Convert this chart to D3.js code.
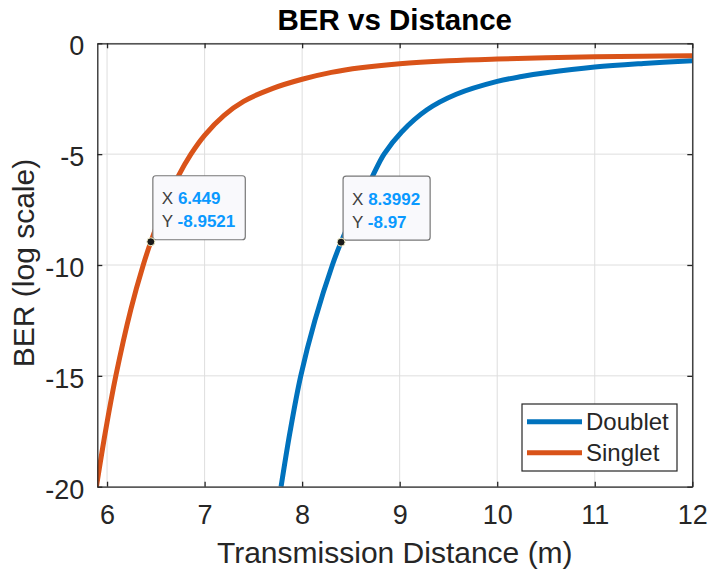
<!DOCTYPE html>
<html>
<head>
<meta charset="utf-8">
<script src="https://cdn.jsdelivr.net/npm/d3@7"></script>
<style>
  html, body { margin: 0; padding: 0; background: #ffffff; }
  svg { display: block; }
  text { font-family: "Liberation Sans", Arial, Helvetica, sans-serif; }
</style>
</head>
<body>
<svg id="chart" width="711" height="575"></svg>
<script>
// Transmission distance (m) and log10(BER) samples for each receiver type
const doubletX = [7.784, 7.877, 7.986, 8.131, 8.31, 8.3992, 8.549, 8.721, 8.84, 9.02, 9.28, 9.58, 10.0, 10.25, 10.5, 11.0, 11.5, 12.0];
const doubletY = [-20, -17.5, -15, -12.5, -10, -8.97, -7.5, -6.0, -5.0, -4.0, -3.0, -2.3, -1.72, -1.5, -1.33, -1.07, -0.91, -0.79];
const singletX = [5.891, 5.984, 6.09, 6.244, 6.371, 6.449, 6.592, 6.729, 6.86, 7.0, 7.2, 7.4, 7.7, 8.0, 8.3, 8.6, 9.0, 9.5, 10.0, 10.5, 11.0, 11.5, 12.0];
const singletY = [-20, -17.5, -15, -12, -10, -8.9521, -7.3, -6.0, -5.0, -4.15, -3.25, -2.62, -2.03, -1.62, -1.31, -1.1, -0.92, -0.79, -0.71, -0.65, -0.61, -0.58, -0.56];

const seriesNames = ["Doublet", "Singlet"];
const seriesColors = ["#0072BD", "#D95319"];

const xTicks = [6, 7, 8, 9, 10, 11, 12];
const xTickLabels = ["6", "7", "8", "9", "10", "11", "12"];
const yTicks = [-20, -15, -10, -5, 0];
const yTickLabels = ["-20", "-15", "-10", "-5", "0"];

// Data tips shown on the chart: [x, y] of the marked point, per series
const tipDoublet = [8.3992, -8.97];
const tipSinglet = [6.449, -8.9521];
const tipDoubletLabels = ["8.3992", "-8.97"];
const tipSingletLabels = ["6.449", "-8.9521"];

const titleText = "BER vs Distance";
const xLabelText = "Transmission Distance (m)";
const yLabelText = "BER (log scale)";

const series = [
  { name: seriesNames[0], color: seriesColors[0], pts: doubletX.map((x, i) => [x, doubletY[i]]) },
  { name: seriesNames[1], color: seriesColors[1], pts: singletX.map((x, i) => [x, singletY[i]]) }
];

const svg = d3.select("#chart");
const plotLeft = 97.3, plotRight = 692.3, plotTop = 43.3, plotBottom = 486.7;

const x = d3.scaleLinear().domain([5.9, 12]).range([plotLeft, plotRight]);
const y = d3.scaleLinear().domain([-20, 0]).range([plotBottom, plotTop]);

const axisColor = "#262626";

// grid
const grid = svg.append("g");
grid.selectAll("line.gx").data(xTicks).join("line")
  .attr("class", "gx")
  .attr("x1", d => x(d)).attr("x2", d => x(d))
  .attr("y1", plotTop).attr("y2", plotBottom)
  .attr("stroke", "#dedede").attr("stroke-width", 1);
grid.selectAll("line.gy").data(yTicks).join("line")
  .attr("class", "gy")
  .attr("y1", d => y(d)).attr("y2", d => y(d))
  .attr("x1", plotLeft).attr("x2", plotRight)
  .attr("stroke", "#dedede").attr("stroke-width", 1);

// curves, clipped to the plot box
svg.append("clipPath").attr("id", "plotclip")
  .append("rect").attr("x", plotLeft).attr("y", plotTop)
  .attr("width", plotRight - plotLeft).attr("height", plotBottom - plotTop);

const line = d3.line()
  .x(d => x(d[0])).y(d => y(d[1]))
  .curve(d3.curveCatmullRom.alpha(0.5));

svg.append("g").attr("clip-path", "url(#plotclip)")
  .selectAll("path").data(series).join("path")
  .attr("d", d => line(d.pts))
  .attr("fill", "none")
  .attr("stroke", d => d.color)
  .attr("stroke-width", 5)
  .attr("stroke-linejoin", "round");

// axes: ticks point inward, box on all four sides
const tickLen = 5;
const axB = d3.axisBottom(x).tickValues(xTicks).tickSize(-tickLen).tickSizeOuter(0)
  .tickFormat((d, i) => xTickLabels[i]).tickPadding(tickLen + 13);
const axT = d3.axisTop(x).tickValues(xTicks).tickSize(-tickLen).tickSizeOuter(0).tickFormat("");
const axL = d3.axisLeft(y).tickValues(yTicks).tickSize(-tickLen).tickSizeOuter(0)
  .tickFormat((d, i) => yTickLabels[i]).tickPadding(tickLen + 8);
const axR = d3.axisRight(y).tickValues(yTicks).tickSize(-tickLen).tickSizeOuter(0).tickFormat("");

function styleAxis(g) {
  g.select(".domain").attr("stroke", axisColor).attr("stroke-width", 1.3);
  g.selectAll(".tick line").attr("stroke", axisColor).attr("stroke-width", 1.3);
  g.selectAll(".tick text").attr("fill", axisColor)
    .style("font-family", "'Liberation Sans', Arial, sans-serif")
    .style("font-size", "27px");
}

svg.append("g").attr("transform", `translate(0,${plotBottom})`).call(axB).call(styleAxis);
svg.append("g").attr("transform", `translate(0,${plotTop})`).call(axT).call(styleAxis);
svg.append("g").attr("transform", `translate(${plotLeft},0)`).call(axL).call(styleAxis)
  .selectAll(".tick text").attr("dy", "0.42em");
svg.append("g").attr("transform", `translate(${plotRight},0)`).call(axR).call(styleAxis);

// title and axis labels
svg.append("text")
  .attr("x", (plotLeft + plotRight) / 2).attr("y", 30)
  .attr("text-anchor", "middle")
  .attr("font-weight", "bold").attr("font-size", 29.5)
  .attr("fill", "#000").text(titleText);

svg.append("text")
  .attr("x", (plotLeft + plotRight) / 2).attr("y", 563)
  .attr("text-anchor", "middle")
  .attr("font-size", 30).attr("fill", axisColor).text(xLabelText);

svg.append("text")
  .attr("transform", `translate(34,${(plotTop + plotBottom) / 2 - 2}) rotate(-90)`)
  .attr("text-anchor", "middle")
  .attr("font-size", 30).attr("fill", axisColor).text(yLabelText);

// legend
const legend = svg.append("g");
legend.append("rect")
  .attr("x", 522).attr("y", 404).attr("width", 155).attr("height", 67)
  .attr("fill", "#ffffff").attr("stroke", axisColor).attr("stroke-width", 1.2);
series.forEach((s, i) => {
  const ly = 421.7 + i * 31;
  legend.append("line")
    .attr("x1", 527).attr("x2", 582).attr("y1", ly).attr("y2", ly)
    .attr("stroke", s.color).attr("stroke-width", 5);
  legend.append("text")
    .attr("x", 586).attr("y", ly).attr("dy", "0.36em")
    .attr("font-size", 24).attr("fill", axisColor).text(s.name);
});

// data tips
function dataTip(pt, labels) {
  const px = x(pt[0]), py = y(pt[1]);
  const g = svg.append("g");
  const box = g.append("rect");
  const bx = px + 2, bBottom = py - 2;
  const boxH = 64;
  const by = bBottom - boxH;
  const t1 = g.append("text").attr("x", bx + 9).attr("y", by + 28.5).attr("font-size", 17);
  t1.append("tspan").attr("fill", "#404040").text("X ");
  t1.append("tspan").attr("fill", "#0a99ff").attr("font-weight", "bold").text(labels[0]);
  const t2 = g.append("text").attr("x", bx + 9).attr("y", by + 51.5).attr("font-size", 17);
  t2.append("tspan").attr("fill", "#404040").text("Y ");
  t2.append("tspan").attr("fill", "#0a99ff").attr("font-weight", "bold").text(labels[1]);
  const w = Math.max(t1.node().getComputedTextLength(), t2.node().getComputedTextLength()) + 19;
  box.attr("x", bx).attr("y", by).attr("width", w).attr("height", boxH)
    .attr("rx", 3).attr("ry", 3)
    .attr("fill", "#f9f9fc").attr("stroke", "#777777").attr("stroke-width", 1.2);
  svg.append("circle").attr("cx", px).attr("cy", py).attr("r", 4)
    .attr("fill", "#1a1a1a").attr("stroke", "#f3f0c8").attr("stroke-width", 1);
}
dataTip(tipSinglet, tipSingletLabels);
dataTip(tipDoublet, tipDoubletLabels);
</script>
</body>
</html>
